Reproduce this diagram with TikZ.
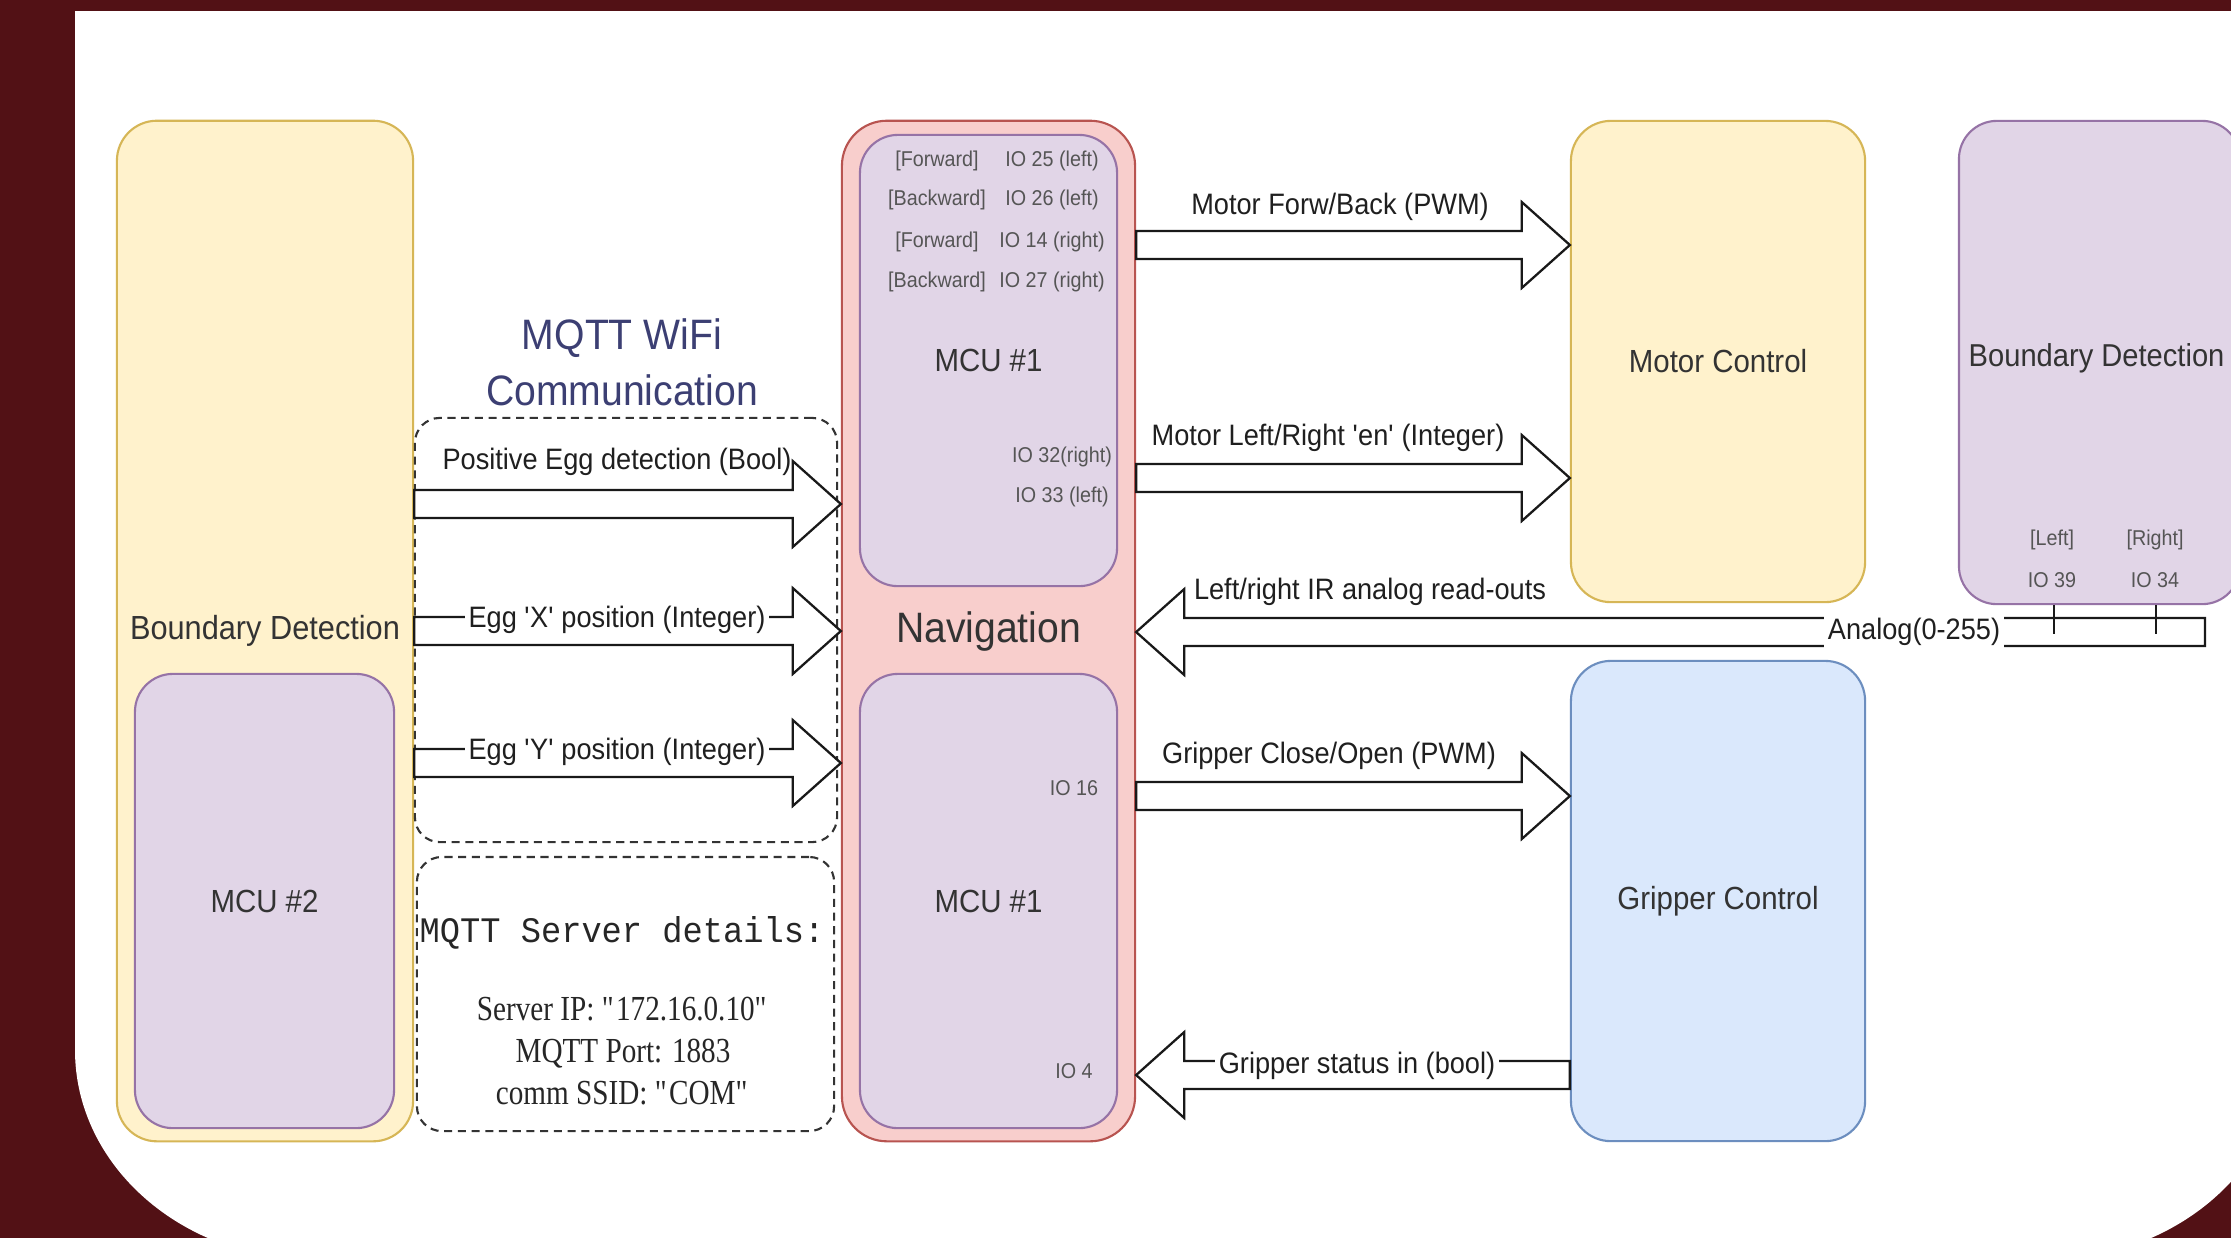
\documentclass[tikz,border=0pt]{standalone}
\usepackage{fontspec}
\setmainfont[FakeStretch=0.92]{Liberation Sans}
\newfontfamily\serverserif[FakeStretch=0.83]{Liberation Serif}
\newfontfamily\servermono[FakeStretch=0.94]{Liberation Mono}
\usetikzlibrary{calc}

\definecolor{framered}{RGB}{82,17,21}
\definecolor{yelF}{HTML}{FFF2CC}
\definecolor{yelD}{HTML}{D6B656}
\definecolor{purF}{HTML}{E1D5E7}
\definecolor{purD}{HTML}{9673A6}
\definecolor{pinkF}{HTML}{F8CECC}
\definecolor{pinkD}{HTML}{B85450}
\definecolor{bluF}{HTML}{DAE8FC}
\definecolor{bluD}{HTML}{6C8EBF}
\definecolor{titleblue}{RGB}{60,63,115}
\definecolor{boxtext}{RGB}{51,51,51}
\definecolor{iotext}{RGB}{85,85,85}

% hollow block arrow from a tail point to a tip point (same height)
\newcommand\blockarrow[2]{%
  \draw[blockline] let \p1=(#1), \p2=(#2), \p3=($(#2)!13.66pt!(#1)$) in
    (\x1,\y1+3.98pt) -- (\x3,\y1+3.98pt) -- (\x3,\y1+12.2pt) -- (\x2,\y2)
    -- (\x3,\y1-12.2pt) -- (\x3,\y1-3.98pt) -- (\x1,\y1-3.98pt) -- cycle;}

\begin{document}
\begin{tikzpicture}[x=0.01cm,y=-0.01cm,
  rbox/.style={draw, line width=0.6pt, inner sep=0pt, text=boxtext,
    font=\fontsize{9.1}{11}\selectfont},
  yelbox/.style={rbox, fill=yelF, draw=yelD, rounded corners=0.4cm},
  purbox/.style={rbox, fill=purF, draw=purD, rounded corners=0.38cm},
  pinkbox/.style={rbox, fill=pinkF, draw=pinkD, rounded corners=0.45cm},
  blubox/.style={rbox, fill=bluF, draw=bluD, rounded corners=0.4cm},
  dashbox/.style={draw=black!80, line width=0.6pt, rounded corners=0.25cm,
    dash pattern=on 2.3pt off 1.6pt},
  blockline/.style={draw=black!90, fill=white, line width=0.65pt},
  alab/.style={font=\fontsize{8.4}{10}\selectfont, text=black!88, inner sep=1pt},
  iolab/.style={font=\fontsize{6.1}{7}\selectfont, text=iotext, inner sep=0pt},
  boxlabel/.style={font=\fontsize{9.5}{11}\selectfont, text=boxtext, inner sep=0pt}]

\useasboundingbox (0,0) rectangle (2231,1238);
\clip (0,0) rectangle (2231,1238);

% slide frame and white panel with rounded lower corners
\fill[framered] (0,0) rectangle (2231,1238);
\fill[white] (75,11) -- (2284,11) -- (2284,1050)
  .. controls (2284,1166) and (2176.5,1260) .. (2044,1260) -- (315,1260)
  .. controls (182.5,1260) and (75,1166) .. (75,1050) -- cycle;

% blocks
\node[yelbox, minimum width=2.96cm, minimum height=10.2cm,
  font=\fontsize{9.5}{11}\selectfont] (bdl) at (265,631) {Boundary Detection};
\node[purbox, minimum width=2.59cm, minimum height=4.54cm] (mcu2) at (264.5,901) {MCU \#2};
\node[pinkbox, minimum width=2.93cm, minimum height=10.2cm,
  font=\fontsize{12.1}{14}\selectfont] (nav) at (988.5,631) {Navigation};
\node[purbox, minimum width=2.57cm, minimum height=4.51cm] (mcua) at (988.5,360.5) {MCU \#1};
\node[purbox, minimum width=2.57cm, minimum height=4.54cm] (mcub) at (988.5,901) {MCU \#1};
\node[yelbox, minimum width=2.94cm, minimum height=4.81cm] (motor) at (1718,361.5) {Motor Control};
\node[blubox, minimum width=2.94cm, minimum height=4.80cm] (grip) at (1718,901) {Gripper Control};
\node[purbox, minimum width=2.81cm, minimum height=4.83cm] (bdr) at (2099.5,362.5) {};
\node[boxlabel, anchor=west, font=\fontsize{9}{11}\selectfont] (bdrlab) at (1968,358) {Boundary Detection};

% MQTT groups
\node[dashbox, minimum width=4.22cm, minimum height=4.24cm] (wifi) at (626,630) {};
\node[dashbox, minimum width=4.17cm, minimum height=2.74cm] (srv) at (625.5,994) {};
\node[font=\fontsize{12.1}{15.9}\selectfont, text=titleblue, align=center]
  (wifititle) at (622,362) {MQTT WiFi\\Communication};
\node[font=\servermono\fontsize{10.2}{12}\selectfont, text=black!85]
  (srvhead) at (622,933) {MQTT Server details:};
\node[font=\serverserif\fontsize{10}{11.95}\selectfont, align=center, text=black!85]
  (srvbody) at (623,1051) {Server IP: \textquotedbl 172.16.0.10\textquotedbl\\
  MQTT Port: 1883\\comm SSID: \textquotedbl COM\textquotedbl};

% pin labels
\node[iolab] (f1) at (937,161) {[Forward]};
\node[iolab] (p1) at (1052,161) {IO 25 (left)};
\node[iolab] (f2) at (937,200) {[Backward]};
\node[iolab] (p2) at (1052,200) {IO 26 (left)};
\node[iolab] (f3) at (937,242) {[Forward]};
\node[iolab] (p3) at (1052,242) {IO 14 (right)};
\node[iolab] (f4) at (937,282) {[Backward]};
\node[iolab] (p4) at (1052,282) {IO 27 (right)};
\node[iolab] (p5) at (1062,457) {IO 32(right)};
\node[iolab] (p6) at (1062,497) {IO 33 (left)};
\node[iolab] (p7) at (1074,788) {IO 16};
\node[iolab] (p8) at (1074,1071) {IO 4};
\node[iolab] (s1) at (2052,540) {[Left]};
\node[iolab] (s2) at (2155,540) {[Right]};
\node[iolab] (s3) at (2052,580) {IO 39};
\node[iolab] (s4) at (2155,580) {IO 34};

% signal levels
\coordinate (a1) at (0,504);
\coordinate (a2) at (0,631);
\coordinate (a3) at (0,763);
\coordinate (a4) at (0,245);
\coordinate (a5) at (0,478);
\coordinate (irEnd) at (2205,632);
\coordinate (a7) at (0,796);
\coordinate (a8) at (0,1075);
\coordinate (tkL) at (2054,634);
\coordinate (tkR) at (2156,634);

% connectors
\blockarrow{bdl.east |- a1}{nav.west |- a1}
\blockarrow{bdl.east |- a2}{nav.west |- a2}
\blockarrow{bdl.east |- a3}{nav.west |- a3}
\blockarrow{nav.east |- a4}{motor.west |- a4}
\blockarrow{nav.east |- a5}{motor.west |- a5}
\blockarrow{irEnd}{nav.east |- irEnd}
\blockarrow{nav.east |- a7}{grip.west |- a7}
\blockarrow{grip.west |- a8}{nav.east |- a8}
\draw[blockline] (bdr.south -| tkL) -- (tkL);
\draw[blockline] (bdr.south -| tkR) -- (tkR);

% connector labels
\node[alab] (lab1) at (617,462) {Positive Egg detection (Bool)};
\node[alab, fill=white] (lab2) at (617,620) {Egg \textquotesingle X\textquotesingle\ position (Integer)};
\node[alab, fill=white] (lab3) at (617,752) {Egg \textquotesingle Y\textquotesingle\ position (Integer)};
\node[alab] (lab4) at (1340,207) {Motor Forw/Back (PWM)};
\node[alab] (lab5) at (1328,438) {Motor Left/Right \textquotesingle en\textquotesingle\ (Integer)};
\node[alab] (lab6) at (1370,592) {Left/right IR analog read-outs};
\node[alab, fill=white, minimum height=0.4cm] (lab6b) at (1914,632) {Analog(0-255)};
\node[alab] (lab7) at (1329,756) {Gripper Close/Open (PWM)};
\node[alab, fill=white] (lab8) at (1357,1066) {Gripper status in (bool)};
\end{tikzpicture}
\end{document}
